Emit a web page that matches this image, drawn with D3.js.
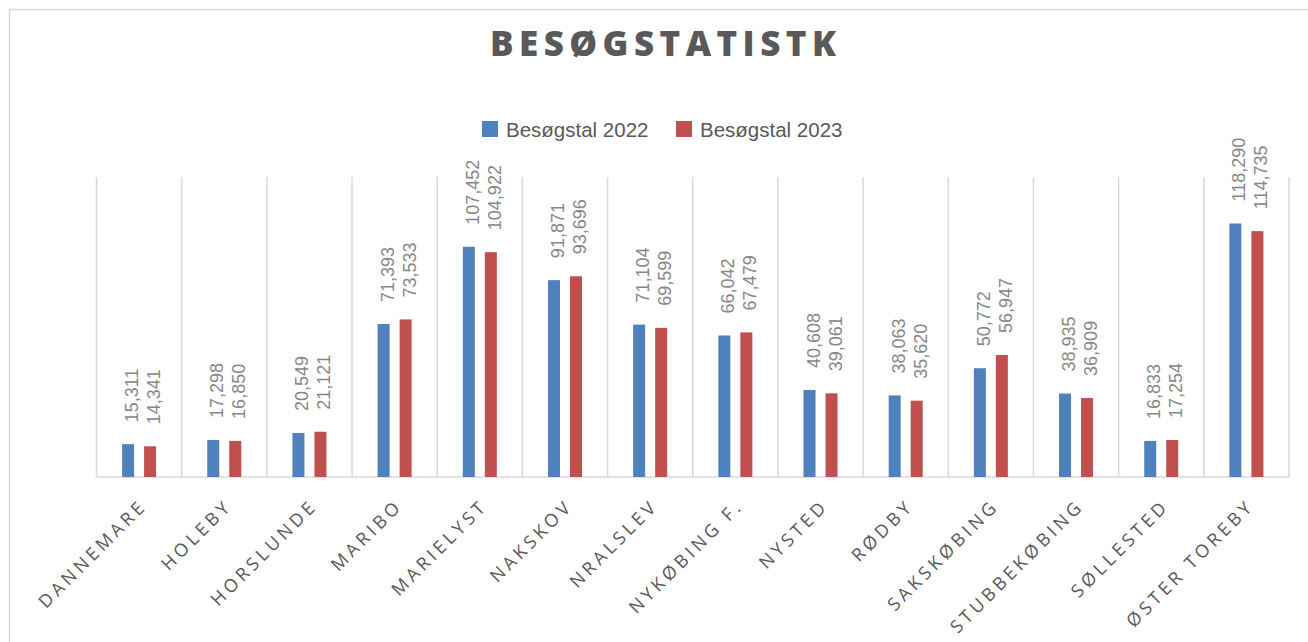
<!DOCTYPE html>
<html><head><meta charset="utf-8">
<script src="https://cdn.jsdelivr.net/npm/d3@7"></script>
<style>body{margin:0;background:#fff}svg{display:block}</style>
</head><body>
<script>
const categories = ["Dannemare","Holeby","Horslunde","Maribo","Marielyst","Nakskov","Nralslev","Nykøbing F.","Nysted","Rødby","Sakskøbing","Stubbekøbing","Søllested","Øster Toreby"];
const series = ["Besøgstal 2022","Besøgstal 2023"];
const values2022 = [15311,17298,20549,71393,107452,91871,71104,66042,40608,38063,50772,38935,16833,118290];
const values2023 = [14341,16850,21121,73533,104922,93696,69599,67479,39061,35620,56947,36909,17254,114735];
const colors = ["#4f81bd","#c0504d"];
const title = "BESØGSTATISTK";

const W=1308,H=642;
const svg=d3.select("body").append("svg").attr("width",W).attr("height",H);
svg.append("rect").attr("x",9.5).attr("y",9.5).attr("width",1320).attr("height",700)
  .attr("fill","#fff").attr("stroke","#d9d9d9").attr("stroke-width",1.5);

const plot={l:96.5,r:1289,t:177,b:477};
const x=d3.scaleBand().domain(categories).range([plot.l,plot.r]);
const y=d3.scaleLinear().domain([0,140000]).range([plot.b,plot.t]);
const xs=d3.scaleBand().domain([0,1]).range([-17,17]).paddingInner(2-34/22);

// gridlines at category boundaries
const bounds=categories.map(c=>x(c)).concat([plot.r]);
svg.append("g").selectAll("line").data(bounds).join("line")
  .attr("x1",d=>d).attr("x2",d=>d).attr("y1",plot.t).attr("y2",plot.b)
  .attr("stroke","#d9d9d9").attr("stroke-width",1.5);
svg.append("line").attr("x1",plot.l).attr("x2",plot.r).attr("y1",plot.b).attr("y2",plot.b)
  .attr("stroke","#d9d9d9").attr("stroke-width",1.5);

const data=[values2022,values2023];
data.forEach((vals,si)=>{
  const g=svg.append("g");
  g.selectAll("rect").data(categories).join("rect")
    .attr("x",(c)=>x(c)+x.bandwidth()/2+xs(si))
    .attr("width",xs.bandwidth())
    .attr("y",(c,i)=>y(vals[i]))
    .attr("height",(c,i)=>plot.b-y(vals[i]))
    .attr("fill",colors[si]);
  g.selectAll("text").data(categories).join("text")
    .attr("transform",(c,i)=>{
      const cx=x(c)+x.bandwidth()/2+xs(si)+xs.bandwidth()/2+10;
      return `translate(${cx},${y(vals[i])-22}) rotate(-90)`;})
    .attr("font-family","Liberation Sans, Arial, sans-serif")
    .attr("font-size",18).attr("fill","#878787")
    .text((c,i)=>d3.format(",")(vals[i]));
});

// x labels
svg.append("g").selectAll("text").data(categories).join("text")
  .attr("transform",c=>`translate(${x(c)+x.bandwidth()/2+9},${plot.b+30}) rotate(-45)`)
  .attr("text-anchor","end")
  .attr("font-family","Open Sans, Liberation Sans, sans-serif")
  .attr("font-size",18).attr("letter-spacing","3.8px").attr("fill","#595959")
  .text(c=>c.toUpperCase());

// title
svg.append("text").attr("x",490).attr("y",56).attr("textLength",346).attr("lengthAdjust","spacing")
  .attr("font-family","Open Sans, Liberation Sans, sans-serif").attr("font-weight",800)
  .attr("font-size",35).attr("fill","#595959").text(title);

// legend
const lg=svg.append("g");
const lx=[482,676];
series.forEach((s,i)=>{
  lg.append("rect").attr("x",lx[i]).attr("y",121).attr("width",16).attr("height",16).attr("fill",colors[i]);
  lg.append("text").attr("x",lx[i]+24).attr("y",137).attr("font-family","Liberation Sans, Arial, sans-serif")
    .attr("font-size",20.5).attr("fill","#595959").text(s);
});
</script>
</body></html>
